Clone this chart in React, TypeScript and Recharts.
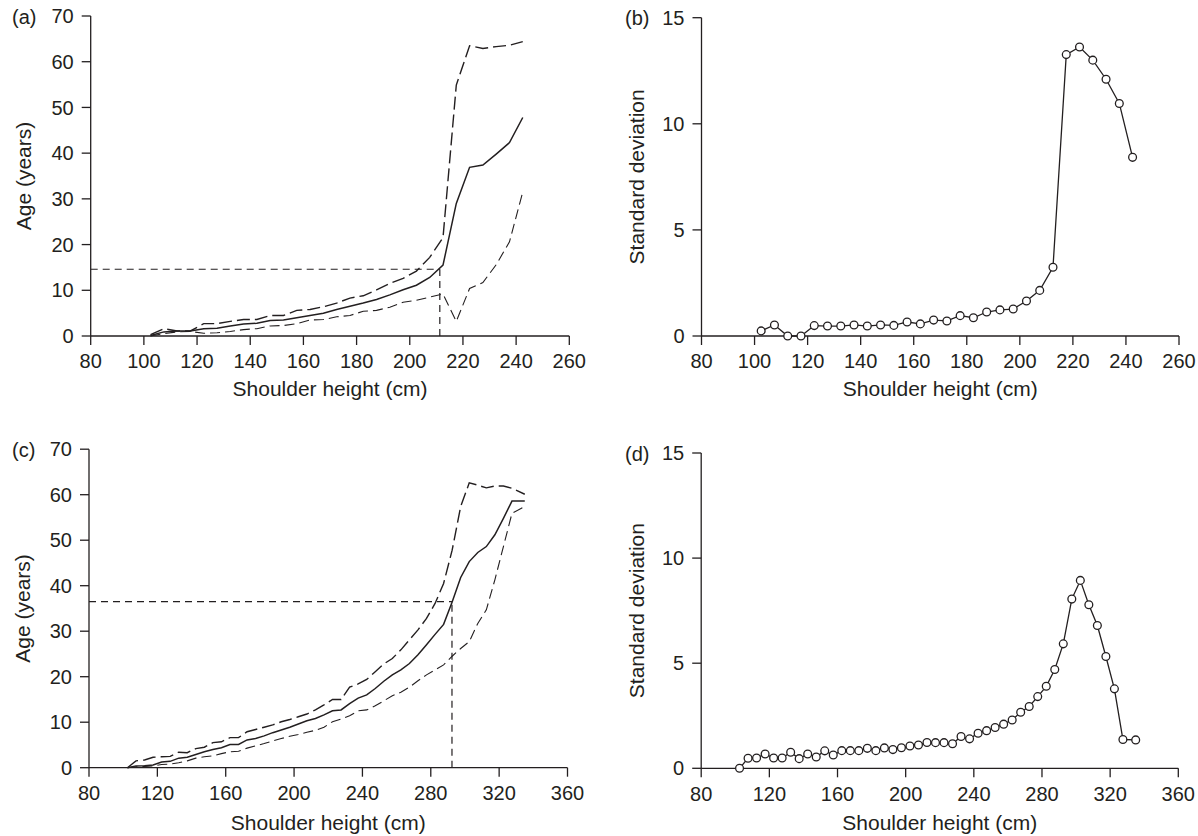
import React from 'react';
import { LineChart, Line, XAxis, YAxis, ReferenceLine } from 'recharts';

// shoulder height classes, panels (a) and (b)
const heightsTop = [
  102.5, 107.5, 112.5, 117.5, 122.5, 127.5, 132.5, 137.5, 142.5, 147.5,
  152.5, 157.5, 162.5, 167.5, 172.5, 177.5, 182.5, 187.5, 192.5, 197.5,
  202.5, 207.5, 212.5, 217.5, 222.5, 227.5, 232.5, 237.5, 242.5,
];
const meanTop = [
  0.1, 0.9, 1.1, 1.1, 1.6, 1.7, 2.2, 2.6, 2.8, 3.4,
  3.5, 4.0, 4.5, 5.0, 5.8, 6.5, 7.2, 8.0, 9.0, 10.1,
  11.1, 12.8, 15.5, 29.0, 36.9, 37.4, 39.8, 42.3, 47.8,
];
const upperTop = [
  0.3, 1.6, 1.1, 1.1, 2.7, 2.7, 3.2, 3.6, 3.6, 4.5,
  4.5, 5.6, 5.8, 6.4, 7.2, 8.3, 8.8, 10.1, 11.5, 12.6,
  14.2, 17.2, 21.5, 54.9, 63.5, 62.9, 63.3, 63.6, 64.4,
];
const lowerTop = [
  0, 0.5, 0.9, 1.0, 0.6, 0.7, 1.0, 1.4, 1.6, 2.2,
  2.3, 2.7, 3.5, 3.6, 4.2, 4.5, 5.4, 5.6, 6.3, 7.4,
  7.8, 8.5, 9.2, 3.2, 10.4, 11.7, 15.6, 20.6, 31.5,
];
const sdTop = [
  0.24, 0.52, 0, 0, 0.49, 0.47, 0.47, 0.52, 0.47, 0.52,
  0.5, 0.66, 0.57, 0.75, 0.71, 0.96, 0.86, 1.13, 1.23, 1.27,
  1.65, 2.15, 3.24, 13.26, 13.62, 13.0, 12.1, 10.96, 8.42,
];

// shoulder height classes, panels (c) and (d)
const heightsBottom = [
  102.5, 107.5, 112.5, 117.5, 122.5, 127.5, 132.5, 137.5, 142.5, 147.5,
  152.5, 157.5, 162.5, 167.5, 172.5, 177.5, 182.5, 187.5, 192.5, 197.5,
  202.5, 207.5, 212.5, 217.5, 222.5, 227.5, 232.5, 237.5, 242.5, 247.5,
  252.5, 257.5, 262.5, 267.5, 272.5, 277.5, 282.5, 287.5, 292.5, 297.5,
  302.5, 307.5, 312.5, 317.5, 322.5, 327.5, 335,
];
const meanBottom = [
  0, 0.4, 0.45, 0.6, 1.25, 1.4, 2.1, 2.3, 2.9, 3.5,
  4.0, 4.4, 5.1, 5.1, 6.1, 6.4, 7.0, 7.7, 8.3, 8.9,
  9.6, 10.3, 10.8, 11.6, 12.5, 12.7, 14.1, 15.3, 16.0, 17.4,
  19.0, 20.4, 21.5, 22.9, 24.8, 27.0, 29.3, 31.5, 36.4, 41.8,
  45.3, 47.3, 48.6, 51.2, 54.8, 58.6, 58.6,
];
const upperBottom = [
  0, 1.5, 1.7, 2.3, 2.4, 2.5, 3.4, 3.3, 4.2, 4.5,
  5.5, 5.7, 6.6, 6.6, 7.9, 8.4, 8.9, 9.4, 10.1, 10.6,
  11.2, 11.8, 12.7, 13.8, 15.0, 15.0, 17.7, 18.4, 19.4, 21.1,
  22.8, 24.0, 25.9, 28.1, 30.3, 32.8, 36.1, 40.5, 47.8, 57.4,
  62.6, 62.1, 61.5, 61.9, 61.9, 61.4, 60.1,
];
const lowerBottom = [
  0, 0.2, 0.3, 0.4, 0.7, 0.8, 1.1, 1.5, 2.1, 2.4,
  2.6, 3.1, 3.5, 3.6, 4.3, 4.8, 5.3, 5.9, 6.4, 6.9,
  7.3, 7.8, 8.2, 8.9, 10.1, 10.7, 11.4, 12.5, 12.7, 13.6,
  14.7, 15.8, 16.6, 17.7, 19.1, 20.4, 21.5, 22.6, 24.5, 26.2,
  27.7, 31.7, 34.7, 41.3, 48.6, 55.9, 57.4,
];
const sdBottom = [
  0, 0.48, 0.49, 0.68, 0.49, 0.49, 0.76, 0.46, 0.68, 0.54,
  0.83, 0.63, 0.84, 0.84, 0.84, 0.95, 0.84, 0.97, 0.89, 0.98,
  1.06, 1.11, 1.23, 1.22, 1.22, 1.17, 1.51, 1.40, 1.67, 1.79,
  1.94, 2.10, 2.30, 2.67, 2.94, 3.41, 3.90, 4.70, 5.92, 8.05,
  8.94, 7.78, 6.79, 5.32, 3.78, 1.37, 1.35,
];

const xTicksTop = [80, 100, 120, 140, 160, 180, 200, 220, 240, 260];
const xTicksBottom = [80, 120, 160, 200, 240, 280, 320, 360];
const ageTicks = [0, 10, 20, 30, 40, 50, 60, 70];
const sdTicks = [0, 5, 10, 15];

// dashed read-off lines (height, age)
const guideTop = { x: 211.3, y: 14.6 };
const guideBottom = { x: 292.4, y: 36.5 };

const INK = '#231f20';
const FONT = '"Liberation Sans", Arial, Helvetica, sans-serif';

type Frame = {
  left: number;
  top: number;
  width: number;
  height: number;
  plotLeft: number;
  plotTop: number;
  plotRight: number;
  plotBottom: number;
};

const axisProps = {
  stroke: INK,
  strokeWidth: 1.3,
  tickSize: 9,
  tick: { fill: INK, fontSize: 20, fontFamily: FONT },
  axisLine: { stroke: INK, strokeWidth: 1.3 },
  tickLine: { stroke: INK, strokeWidth: 1.3 },
};

function frameMargin(f: Frame) {
  return {
    top: f.plotTop - f.top,
    right: f.left + f.width - f.plotRight,
    bottom: 0,
    left: 0,
  };
}

const AgePanel: React.FC<{
  frame: Frame;
  heights: number[];
  mean: number[];
  upper: number[];
  lower: number[];
  xTicks: number[];
  xMax: number;
  guide: { x: number; y: number };
  titleOffset: number;
}> = ({ frame, heights, mean, upper, lower, xTicks, xMax, guide, titleOffset }) => {
  const rows = heights.map((h, i) => ({ h, mean: mean[i], upper: upper[i], lower: lower[i] }));
  return (
    <div style={{ position: 'absolute', left: frame.left, top: frame.top }}>
      <LineChart width={frame.width} height={frame.height} data={rows} margin={frameMargin(frame)}>
        <XAxis
          {...axisProps}
          dataKey="h"
          type="number"
          domain={[80, xMax]}
          ticks={xTicks}
          interval={0}
          tickMargin={9}
          height={frame.top + frame.height - frame.plotBottom}
          label={{
            value: 'Shoulder height (cm)',
            position: 'insideBottom',
            offset: 4,
            fill: INK,
            fontSize: 21,
            fontFamily: FONT,
          }}
        />
        <YAxis
          {...axisProps}
          type="number"
          domain={[0, 70]}
          ticks={ageTicks}
          interval={0}
          tickMargin={8}
          width={frame.plotLeft - frame.left}
          label={{
            value: 'Age (years)',
            angle: -90,
            position: 'insideLeft',
            offset: titleOffset,
            fill: INK,
            fontSize: 21,
            fontFamily: FONT,
            style: { textAnchor: 'middle' },
          }}
        />
        <ReferenceLine
          segment={[{ x: 80, y: guide.y }, { x: guide.x, y: guide.y }]}
          stroke={INK}
          strokeWidth={1.2}
          strokeDasharray="7 5"
        />
        <ReferenceLine
          segment={[{ x: guide.x, y: 0 }, { x: guide.x, y: guide.y }]}
          stroke={INK}
          strokeWidth={1.2}
          strokeDasharray="7 5"
        />
        <Line dataKey="upper" stroke={INK} strokeWidth={1.4} strokeDasharray="13 5" dot={false} isAnimationActive={false} />
        <Line dataKey="lower" stroke={INK} strokeWidth={1.1} strokeDasharray="10 5" dot={false} isAnimationActive={false} />
        <Line dataKey="mean" stroke={INK} strokeWidth={1.5} dot={false} isAnimationActive={false} />
      </LineChart>
    </div>
  );
};

const SdPanel: React.FC<{
  frame: Frame;
  heights: number[];
  sd: number[];
  xTicks: number[];
  xMax: number;
  titleOffset: number;
}> = ({ frame, heights, sd, xTicks, xMax, titleOffset }) => {
  const rows = heights.map((h, i) => ({ h, sd: sd[i] }));
  return (
    <div style={{ position: 'absolute', left: frame.left, top: frame.top }}>
      <LineChart width={frame.width} height={frame.height} data={rows} margin={frameMargin(frame)}>
        <XAxis
          {...axisProps}
          dataKey="h"
          type="number"
          domain={[80, xMax]}
          ticks={xTicks}
          interval={0}
          tickMargin={9}
          height={frame.top + frame.height - frame.plotBottom}
          label={{
            value: 'Shoulder height (cm)',
            position: 'insideBottom',
            offset: 4,
            fill: INK,
            fontSize: 21,
            fontFamily: FONT,
          }}
        />
        <YAxis
          {...axisProps}
          type="number"
          domain={[0, 15]}
          ticks={sdTicks}
          interval={0}
          tickMargin={8}
          width={frame.plotLeft - frame.left}
          label={{
            value: 'Standard deviation',
            angle: -90,
            position: 'insideLeft',
            offset: titleOffset,
            fill: INK,
            fontSize: 21,
            fontFamily: FONT,
            style: { textAnchor: 'middle' },
          }}
        />
        <Line
          dataKey="sd"
          stroke={INK}
          strokeWidth={1.3}
          dot={{ r: 3.9, fill: '#fff', stroke: INK, strokeWidth: 1.3 }}
          isAnimationActive={false}
        />
      </LineChart>
    </div>
  );
};

const frameA: Frame = { left: 0, top: 0, width: 600, height: 400, plotLeft: 90.7, plotTop: 16, plotRight: 569.3, plotBottom: 336 };
const frameB: Frame = { left: 600, top: 0, width: 598, height: 400, plotLeft: 701.5, plotTop: 17.7, plotRight: 1179, plotBottom: 336 };
const frameC: Frame = { left: 0, top: 430, width: 600, height: 404, plotLeft: 89, plotTop: 449.2, plotRight: 567.5, plotBottom: 767.7 };
const frameD: Frame = { left: 600, top: 430, width: 598, height: 404, plotLeft: 701.2, plotTop: 453, plotRight: 1178.3, plotBottom: 768.3 };

export default function App() {
  return (
    <div style={{ position: 'absolute', left: 0, top: 0, width: 1198, height: 836, background: '#fff', fontFamily: FONT }}>
      <AgePanel
        frame={frameA}
        heights={heightsTop}
        mean={meanTop}
        upper={upperTop}
        lower={lowerTop}
        xTicks={xTicksTop}
        xMax={260}
        guide={guideTop}
        titleOffset={24}
      />
      <SdPanel frame={frameB} heights={heightsTop} sd={sdTop} xTicks={xTicksTop} xMax={260} titleOffset={37} />
      <AgePanel
        frame={frameC}
        heights={heightsBottom}
        mean={meanBottom}
        upper={upperBottom}
        lower={lowerBottom}
        xTicks={xTicksBottom}
        xMax={360}
        guide={guideBottom}
        titleOffset={23}
      />
      <SdPanel frame={frameD} heights={heightsBottom} sd={sdBottom} xTicks={xTicksBottom} xMax={360} titleOffset={37} />
      <svg width={1198} height={836} style={{ position: 'absolute', left: 0, top: 0, pointerEvents: 'none' }}>
        <g fill={INK} fontSize={20} fontFamily={FONT}>
          <text x={12} y={24}>(a)</text>
          <text x={625} y={25}>(b)</text>
          <text x={12} y={457}>(c)</text>
          <text x={625} y={461}>(d)</text>
        </g>
      </svg>
    </div>
  );
}
